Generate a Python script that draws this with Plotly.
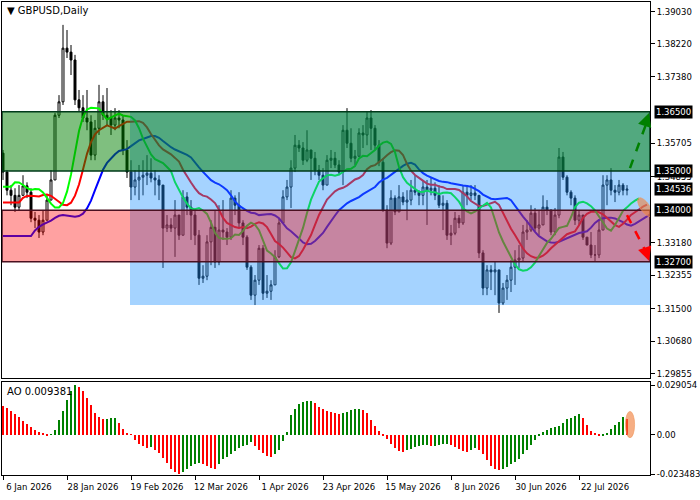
import numpy as np
import plotly.graph_objects as go

# daily GBPUSD bars, 6 Jan 2026 onwards (index = bar number)
close = [1.3497, 1.3451, 1.3438, 1.3408, 1.3438, 1.3462, 1.3446, 1.3380, 1.3375, 1.3345,
         1.3375, 1.3426, 1.3477, 1.3641, 1.3675, 1.3811, 1.3801, 1.3781, 1.3680, 1.3660,
         1.3634, 1.3624, 1.3540, 1.3608, 1.3675, 1.3641, 1.3634, 1.3616, 1.3634, 1.3629,
         1.3553, 1.3497, 1.3459, 1.3477, 1.3484, 1.3489, 1.3494, 1.3482, 1.3477, 1.3464,
         1.3355, 1.3363, 1.3355, 1.3388, 1.3337, 1.3434, 1.3408, 1.3388, 1.3337, 1.3228,
         1.3233, 1.3320, 1.3357, 1.3269, 1.3350, 1.3345, 1.3332, 1.3431, 1.3413, 1.3368,
         1.3332, 1.3256, 1.3185, 1.3223, 1.3304, 1.3190, 1.3195, 1.3211, 1.3282, 1.3368,
         1.3434, 1.3459, 1.3507, 1.3565, 1.3558, 1.3527, 1.3553, 1.3532, 1.3502, 1.3489,
         1.3464, 1.3527, 1.3532, 1.3515, 1.3497, 1.3603, 1.3570, 1.3532, 1.3537, 1.3596,
         1.3591, 1.3634, 1.3608, 1.3565, 1.3522, 1.3401, 1.3317, 1.3431, 1.3396, 1.3434,
         1.3421, 1.3426, 1.3451, 1.3446, 1.3438, 1.3459, 1.3451, 1.3456, 1.3438, 1.3413,
         1.3418, 1.3337, 1.3342, 1.3380, 1.3368, 1.3446, 1.3438, 1.3444, 1.3438, 1.3292,
         1.3203, 1.3249, 1.3244, 1.3249, 1.3165, 1.3203, 1.3223, 1.3256, 1.3274, 1.3279,
         1.3345, 1.3350, 1.3393, 1.3355, 1.3363, 1.3408, 1.3401, 1.3345, 1.3388, 1.3535,
         1.3484, 1.3446, 1.3431, 1.3375, 1.3388, 1.3332, 1.3312, 1.3287, 1.3287, 1.3350,
         1.3464, 1.3477, 1.3451, 1.3446, 1.3464, 1.3451, 1.34536]
high = [1.3553, 1.3502, 1.3464, 1.3456, 1.3464, 1.3489, 1.3471, 1.3456, 1.3396, 1.3388,
        1.3401, 1.3438, 1.3502, 1.3647, 1.3692, 1.3870, 1.3857, 1.3819, 1.3794, 1.3705,
        1.3692, 1.3705, 1.3641, 1.3629, 1.3718, 1.3692, 1.3710, 1.3654, 1.3659, 1.3654,
        1.3641, 1.3578, 1.3527, 1.3502, 1.3515, 1.3527, 1.3540, 1.3532, 1.3502, 1.3489,
        1.3426, 1.3388, 1.3380, 1.3426, 1.3363, 1.3451, 1.3446, 1.3426, 1.3401, 1.3350,
        1.3261, 1.3337, 1.3375, 1.3401, 1.3413, 1.3426, 1.3355, 1.3451, 1.3438, 1.3446,
        1.3375, 1.3337, 1.3261, 1.3236, 1.3312, 1.3312, 1.3236, 1.3223, 1.3299, 1.3380,
        1.3451, 1.3477, 1.3527, 1.3591, 1.3578, 1.3573, 1.3603, 1.3553, 1.3548, 1.3515,
        1.3507, 1.3540, 1.3553, 1.3548, 1.3527, 1.3616, 1.3659, 1.3608, 1.3553, 1.3608,
        1.3616, 1.3649, 1.3654, 1.3616, 1.3578, 1.3532, 1.3413, 1.3451, 1.3438, 1.3464,
        1.3446, 1.3451, 1.3477, 1.3489, 1.3451, 1.3477, 1.3477, 1.3482, 1.3471, 1.3464,
        1.3438, 1.3426, 1.3363, 1.3396, 1.3388, 1.3464, 1.3464, 1.3464, 1.3464, 1.3426,
        1.3299, 1.3261, 1.3261, 1.3269, 1.3223, 1.3216, 1.3236, 1.3274, 1.3299, 1.3312,
        1.3363, 1.3375, 1.3413, 1.3406, 1.3401, 1.3438, 1.3426, 1.3396, 1.3406, 1.3558,
        1.3548, 1.3489, 1.3451, 1.3438, 1.3401, 1.3388, 1.3330, 1.3345, 1.3312, 1.3375,
        1.3489, 1.3489, 1.3507, 1.3464, 1.3477, 1.3469, 1.3464]
low = [1.3477, 1.3438, 1.3413, 1.3396, 1.3401, 1.3438, 1.3431, 1.3370, 1.3355, 1.3330,
       1.3337, 1.3388, 1.3426, 1.3482, 1.3634, 1.3667, 1.3786, 1.3743, 1.3667, 1.3649,
       1.3624, 1.3603, 1.3527, 1.3527, 1.3591, 1.3629, 1.3616, 1.3591, 1.3603, 1.3608,
       1.3540, 1.3482, 1.3426, 1.3438, 1.3426, 1.3438, 1.3464, 1.3471, 1.3438, 1.3426,
       1.3254, 1.3345, 1.3345, 1.3282, 1.3325, 1.3337, 1.3388, 1.3325, 1.3312, 1.3211,
       1.3216, 1.3223, 1.3261, 1.3254, 1.3261, 1.3325, 1.3312, 1.3325, 1.3388, 1.3355,
       1.3312, 1.3249, 1.3173, 1.3160, 1.3211, 1.3173, 1.3178, 1.3173, 1.3218, 1.3279,
       1.3388, 1.3426, 1.3406, 1.3497, 1.3548, 1.3515, 1.3522, 1.3477, 1.3489, 1.3477,
       1.3451, 1.3477, 1.3507, 1.3507, 1.3489, 1.3464, 1.3558, 1.3522, 1.3515, 1.3540,
       1.3558, 1.3565, 1.3553, 1.3553, 1.3512, 1.3396, 1.3304, 1.3312, 1.3388, 1.3396,
       1.3413, 1.3375, 1.3413, 1.3438, 1.3413, 1.3413, 1.3363, 1.3438, 1.3426, 1.3406,
       1.3350, 1.3325, 1.3312, 1.3337, 1.3355, 1.3363, 1.3413, 1.3426, 1.3426, 1.3279,
       1.3185, 1.3185, 1.3198, 1.3185, 1.3140, 1.3160, 1.3173, 1.3193, 1.3211, 1.3254,
       1.3269, 1.3325, 1.3345, 1.3345, 1.3337, 1.3380, 1.3388, 1.3337, 1.3337, 1.3380,
       1.3477, 1.3438, 1.3413, 1.3363, 1.3363, 1.3325, 1.3312, 1.3279, 1.3269, 1.3279,
       1.3406, 1.3413, 1.3438, 1.3421, 1.3438, 1.3438, 1.3438]
first_open = 1.3545

ao = [0.01685, 0.01588, 0.01414, 0.01220, 0.01027, 0.00833, 0.00620, 0.00446, 0.00291, 0.00174,
      0.00077, -0.00019, 0.00039, 0.00291, 0.00872, 0.01414, 0.02034, 0.02576, 0.02905, 0.02809,
      0.02576, 0.02131, 0.01743, 0.01259, 0.01065, 0.00910, 0.00930, 0.00969, 0.00988, 0.00678,
      0.00329, 0.00097, 0.00039, -0.00291, -0.00523, -0.00678, -0.00775, -0.00717, -0.00872, -0.01104,
      -0.01356, -0.01685, -0.01995, -0.02189, -0.02286, -0.02189, -0.01995, -0.01840, -0.01743, -0.01685,
      -0.01743, -0.01840, -0.01976, -0.01995, -0.01743, -0.01453, -0.01298, -0.01162, -0.00969, -0.00775,
      -0.00678, -0.00581, -0.00446, -0.00678, -0.00910, -0.01104, -0.01259, -0.01298, -0.01162, -0.00872,
      -0.00387, 0.00136, 0.01162, 0.01491, 0.01782, 0.01898, 0.01956, 0.01976, 0.01840, 0.01646,
      0.01491, 0.01414, 0.01356, 0.01298, 0.01240, 0.01259, 0.01337, 0.01433, 0.01491, 0.01511,
      0.01453, 0.01259, 0.00872, 0.00484, 0.00194, -0.00019, -0.00232, -0.00523, -0.00794, -0.00930,
      -0.01007, -0.00910, -0.00833, -0.00717, -0.00639, -0.00620, -0.00600, -0.00678, -0.00659, -0.00600,
      -0.00542, -0.00523, -0.00581, -0.00717, -0.00833, -0.00930, -0.01007, -0.00891, -0.00794, -0.00872,
      -0.01162, -0.01491, -0.01840, -0.02034, -0.02073, -0.02034, -0.01879, -0.01743, -0.01608, -0.01414,
      -0.01162, -0.00872, -0.00581, -0.00291, -0.00039, 0.00136, 0.00252, 0.00368, 0.00446, 0.00523,
      0.00717, 0.00910, 0.00988, 0.01104, 0.01220, 0.00969, 0.00581, 0.00232, 0.00058, -0.00077,
      -0.00039, 0.00058, 0.00329, 0.00581, 0.00775, 0.01065, 0.009381]

date_labels = ["6 Jan 2026", "28 Jan 2026", "19 Feb 2026", "12 Mar 2026", "1 Apr 2026",
               "23 Apr 2026", "15 May 2026", "8 Jun 2026", "30 Jun 2026", "22 Jul 2026"]
date_ticks = [0, 16, 32, 48, 64, 80, 96, 112, 128, 144]

price_ticks = [1.39030, 1.38220, 1.37380, 1.35705, 1.34855, 1.33180, 1.32355, 1.31500, 1.30680, 1.29855]
boxed_levels = [1.36500, 1.35000, 1.34536, 1.34000, 1.32700]
ao_ticks = [0.029054, 0.0, -0.023483]
ao_tick_text = ["0.029054", "0.00", "-0.023483"]

# alligator seeds (values before the window)
jaw_seed, teeth_seed, lips_seed = 1.3335, 1.3420, 1.3460

n = len(close)
x = np.arange(n)
opn = [first_open] + close[:-1]
hi = [max(h, o, c) for h, o, c in zip(high, opn, close)]
lo = [min(l, o, c) for l, o, c in zip(low, opn, close)]
median = [(h + l) / 2 for h, l in zip(hi, lo)]


def smma(seed, period, shift):
    s = seed
    out = []
    for j in range(n + shift):
        if j - shift >= 0:
            s = (s * (period - 1) + median[j - shift]) / period
        out.append(s)
    return out


jaw = smma(jaw_seed, 13, 8)
teeth = smma(teeth_seed, 8, 5)
lips = smma(lips_seed, 5, 3)

X0, X1 = -0.25, 161.75
SPLIT = 31.75
FONT = "DejaVu Sans"
TICKFONT = dict(family=FONT, size=8.5, color="black")

fig = go.Figure()
fig.add_trace(go.Candlestick(
    x=x, open=opn, high=hi, low=lo, close=close,
    increasing=dict(line=dict(color="black", width=1), fillcolor="white"),
    decreasing=dict(line=dict(color="black", width=1), fillcolor="black"),
    whiskerwidth=0, showlegend=False, hoverinfo="skip", xaxis="x", yaxis="y",
))
for vals, col in [(jaw, "#0000ff"), (teeth, "#ff0000"), (lips, "#00ff00")]:
    fig.add_trace(go.Scatter(x=np.arange(len(vals)), y=vals, mode="lines",
                             line=dict(color=col, width=2), showlegend=False,
                             hoverinfo="skip", xaxis="x", yaxis="y"))

ao_colors = ["#ff0000"] + ["#008000" if ao[i] > ao[i - 1] else "#ff0000" for i in range(1, n)]
fig.add_trace(go.Bar(x=x, y=ao, marker=dict(color=ao_colors, line=dict(width=0)),
                     width=0.7, showlegend=False, hoverinfo="skip", xaxis="x2", yaxis="y2"))

# zones (drawn over the candles, semi-transparent)
shapes = [
    dict(type="rect", xref="x", yref="y", x0=SPLIT, x1=X1, y0=1.3160, y1=1.3650,
         fillcolor="rgba(30,144,255,0.40)", line=dict(width=0), layer="above"),
    dict(type="rect", xref="x", yref="y", x0=X0, x1=X1, y0=1.3500, y1=1.3650,
         fillcolor="rgba(0,128,0,0.5)", line=dict(color="#003a1a", width=1.5), layer="above"),
    dict(type="rect", xref="x", yref="y", x0=X0, x1=X1, y0=1.3270, y1=1.3400,
         fillcolor="rgba(255,0,0,0.37)", line=dict(color="#4a1020", width=1.5), layer="above"),
    # dashed forecast arrows
    dict(type="line", xref="x", yref="y", x0=156.75, y0=1.3507, x1=161.0, y1=1.3625,
         line=dict(color="#008000", width=2.5, dash="dash"), layer="above"),
    dict(type="line", xref="x", yref="y", x0=156.0, y0=1.3388, x1=161.0, y1=1.3290,
         line=dict(color="#ff0000", width=2.5, dash="dash"), layer="above"),
]
# tilted orange ellipse near the last price
t = np.linspace(0, 2 * np.pi, 40)
ang = np.deg2rad(-55)
ex = 11 * np.cos(t) * np.cos(ang) - 4.5 * np.sin(t) * np.sin(ang)
ey = 11 * np.cos(t) * np.sin(ang) + 4.5 * np.sin(t) * np.cos(ang)
pts = [(160.5 + px / 4, 1.3408 + py * 0.0002535) for px, py in zip(ex, ey)]
path = "M " + " L ".join(f"{a:.3f},{b:.5f}" for a, b in pts) + " Z"
shapes.append(dict(type="path", xref="x", yref="y", path=path,
                   fillcolor="rgba(240,130,60,0.6)", line=dict(color="rgba(240,150,90,0.6)", width=1),
                   layer="above"))
shapes.append(dict(type="circle", xref="x2", yref="y2", x0=155.6, x1=157.9, y0=-0.0019, y1=0.0136,
                   fillcolor="rgba(240,120,50,0.6)", line=dict(color="rgba(240,150,90,0.6)", width=1),
                   layer="above"))

annotations = [
    dict(x=161.5, y=1.3647, xref="x", yref="y", ax=-3, ay=9, text="", showarrow=True,
         arrowhead=2, arrowsize=1.1, arrowwidth=2.5, arrowcolor="#008000"),
    dict(x=161.5, y=1.3272, xref="x", yref="y", ax=-3, ay=-9, text="", showarrow=True,
         arrowhead=2, arrowsize=1.1, arrowwidth=2.5, arrowcolor="#ff0000"),
    dict(x=0.005, y=0.997, xref="paper", yref="paper", xanchor="left", yanchor="top",
         text="▼ GBPUSD,Daily", showarrow=False, font=dict(family=FONT, size=10, color="black")),
    dict(x=0.005, y=0.192, xref="paper", yref="paper", xanchor="left", yanchor="top",
         text="AO 0.009381", showarrow=False, font=dict(family=FONT, size=10, color="black")),
]
for lv in boxed_levels:
    annotations.append(dict(x=1.0, y=lv, xref="paper", yref="y", xanchor="left", xshift=4,
                            text=f"{lv:.5f}", showarrow=False, bgcolor="black", borderpad=1,
                            font=dict(family=FONT, size=8.5, color="white")))

fig.update_layout(
    width=700, height=500,
    margin=dict(l=2, r=50, t=2, b=25),
    paper_bgcolor="white", plot_bgcolor="white",
    shapes=shapes, annotations=annotations,
    bargap=0, showlegend=False,
    xaxis=dict(domain=[0, 1], range=[X0, X1], anchor="y", showgrid=False, zeroline=False,
               showticklabels=False, showline=True, mirror=True, linecolor="black",
               rangeslider=dict(visible=False), automargin=False),
    yaxis=dict(domain=[0.205, 1], range=[1.2975, 1.3928], side="right", showgrid=False,
               zeroline=False, tickvals=price_ticks, ticktext=[f"{v:.5f}" for v in price_ticks],
               ticks="outside", ticklen=4, tickcolor="black", showline=True, mirror=True,
               linecolor="black", tickfont=TICKFONT, automargin=False),
    xaxis2=dict(domain=[0, 1], range=[X0, X1], anchor="y2", showgrid=False, zeroline=False,
                tickvals=date_ticks, ticktext=date_labels, ticks="outside", ticklen=4,
                tickcolor="black", ticklabelshift=26, showline=True, mirror=True, linecolor="black",
                tickfont=TICKFONT, automargin=False),
    yaxis2=dict(domain=[0, 0.197], range=[-0.0238, 0.0310], side="right", showgrid=False,
                zeroline=False, tickvals=ao_ticks, ticktext=ao_tick_text, ticks="outside",
                ticklen=4, tickcolor="black", showline=True, mirror=True, linecolor="black",
                tickfont=TICKFONT, automargin=False),
)

fig.write_html("out.html", config={"displayModeBar": False},
               post_script="document.body.style.margin='0';")
